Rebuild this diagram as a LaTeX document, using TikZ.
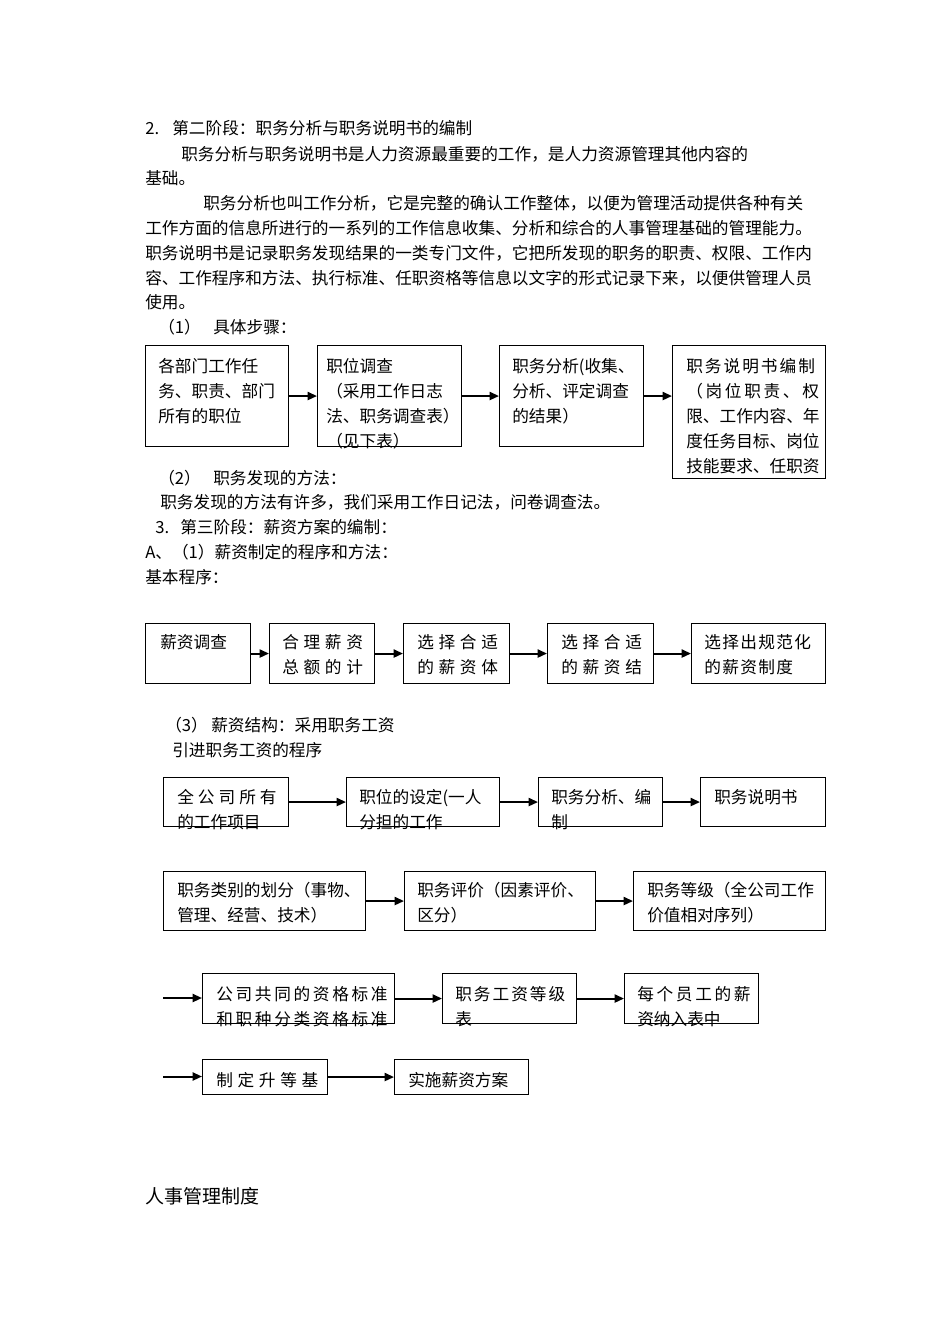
\documentclass[tikz,border=0pt]{standalone}
\usepackage{fontspec}
\setmainfont{Noto Sans CJK SC}
\usetikzlibrary{arrows.meta}

\newcommand\bodyfont{\fontsize{12.5}{18.75}\selectfont}
\makeatletter
\newcommand\spread[2]{\def\spread@gap{\hspace{#1}}\spread@first#2\relax}
\def\spread@first#1{#1\spread@next}
\def\spread@next#1{\ifx\relax#1\else\spread@gap#1\expandafter\spread@next\fi}
\makeatother

\tikzset{
  box/.style={draw, line width=0.8pt, anchor=north west, inner sep=0pt},
  sz/.style 2 args={minimum width=#1*0.75pt, minimum height=#2*0.75pt},
  txt/.style={inner sep=0pt, anchor=west, font=\bodyfont},
  btxt/.style={inner sep=0pt, anchor=north west, align=left, font=\bodyfont},
  arr/.style={line width=1.5pt, -{Triangle[length=7pt,width=6pt]}},
}

\begin{document}
\begin{tikzpicture}[x=0.75pt, y=-0.75pt]
  \fill[white] (0,0) rectangle (950,1344);
  \useasboundingbox (0,0) rectangle (950,1344);

  % stage two
  \node[txt] (l1) at (145,128) {\makebox[20.25pt][l]{2.}第二阶段：职务分析与职务说明书的编制};
  \node[txt] (l2) at (181,154) {职务分析与职务说明书是人力资源最重要的工作，是人力资源管理其他内容的};
  \node[txt] (l3) at (145,178) {基础。};
  \node[txt] (l4) at (203,203) {职务分析也叫工作分析，它是完整的确认工作整体，以便为管理活动提供各种有关};
  \node[txt] (l5) at (145,228) {工作方面的信息所进行的一系列的工作信息收集、分析和综合的人事管理基础的管理能力。};
  \node[txt] (l6) at (145,253) {职务说明书是记录职务发现结果的一类专门文件，它把所发现的职务的职责、权限、工作内};
  \node[txt] (l7) at (145,278) {容、工作程序和方法、执行标准、任职资格等信息以文字的形式记录下来，以便供管理人员};
  \node[txt] (l8) at (145,302) {使用。};
  \node[txt] (l9) at (158,327) {\makebox[41.25pt][l]{（1）}具体步骤：};

  \node[box, sz={143}{101}] (b1) at (145,345) {};
  \node[box, sz={144}{101}] (b2) at (317,345) {};
  \node[box, sz={144}{101}] (b3) at (499,345) {};
  \node[box, sz={153}{133}] (b4) at (672,345) {};
  \node[btxt] (b1t) at (158,358) {各部门工作任\\务、职责、部门\\所有的职位};
  \node[btxt] (b2t) at (326,358) {职位调查\\（采用工作日志\\法、职务调查表）\\（见下表）};
  \node[btxt] (b3t) at (512,358) {职务分析(收集、\\分析、评定调查\\的结果）};
  \node[btxt] (b4t) at (686,358) {\spread{1.5pt}{职务说明书编制}\\\spread{2pt}{（岗位职责、权}\\限、工作内容、年\\度任务目标、岗位\\技能要求、任职资};

  \node[txt] (m1) at (158,478) {\makebox[41.25pt][l]{（2）}职务发现的方法：};
  \node[txt] (m2) at (160,502) {职务发现的方法有许多，我们采用工作日记法，问卷调查法。};
  % stage three
  \node[txt] (m3) at (155,527) {\makebox[18.75pt][l]{3.}第三阶段：薪资方案的编制：};
  \node[txt] (m4) at (145,552) {A、（1）薪资制定的程序和方法：};
  \node[txt] (m5) at (145,577) {基本程序：};

  \node[box, sz={105}{60}] (c1) at (145,623) {};
  \node[box, sz={105}{60}] (c2) at (269,623) {};
  \node[box, sz={106}{60}] (c3) at (403,623) {};
  \node[box, sz={106}{60}] (c4) at (547,623) {};
  \node[box, sz={134}{60}] (c5) at (691,623) {};
  \node[btxt] (c1t) at (160,634) {薪资调查};
  \node[btxt] (c2t) at (282,634) {\spread{3.5pt}{合理薪资}\\\spread{3.5pt}{总额的计}};
  \node[btxt] (c3t) at (417,634) {\spread{3.5pt}{选择合适}\\\spread{3.5pt}{的薪资体}};
  \node[btxt] (c4t) at (561,634) {\spread{3.5pt}{选择合适}\\\spread{3.5pt}{的薪资结}};
  \node[btxt] (c5t) at (704,634) {\spread{1pt}{选择出规范化}\\\spread{1pt}{的薪资制度}};

  \node[txt] (n1) at (165,725) {\makebox[34.5pt][l]{（3）}薪资结构：采用职务工资};
  \node[txt] (n2) at (172,750) {引进职务工资的程序};

  \node[box, sz={125}{49}] (d1) at (163,777) {};
  \node[box, sz={153}{49}] (d2) at (346,777) {};
  \node[box, sz={124}{49}] (d3) at (538,777) {};
  \node[box, sz={125}{49}] (d4) at (700,777) {};
  \node[btxt] (d1t) at (177,789) {\spread{3pt}{全公司所有}\\的工作项目};
  \node[btxt] (d2t) at (359,789) {职位的设定(一人\\分担的工作};
  \node[btxt] (d3t) at (551,789) {职务分析、编\\制};
  \node[btxt] (d4t) at (714,789) {职务说明书};

  \node[box, sz={202}{59}] (e1) at (163,871) {};
  \node[box, sz={191}{59}] (e2) at (404,871) {};
  \node[box, sz={192}{59}] (e3) at (633,871) {};
  \node[btxt] (e1t) at (177,882) {职务类别的划分（事物、\\管理、经营、技术）};
  \node[btxt] (e2t) at (417,882) {职务评价（因素评价、\\区分）};
  \node[btxt] (e3t) at (647,882) {职务等级（全公司工作\\价值相对序列）};

  \coordinate (fin) at (163,998);
  \node[box, sz={192}{50}] (f1) at (202,973) {};
  \node[box, sz={134}{50}] (f2) at (442,973) {};
  \node[box, sz={134}{50}] (f3) at (624,973) {};
  \node[btxt] (f1t) at (216,986) {\spread{2pt}{公司共同的资格标准}\\\spread{2pt}{和职种分类资格标准}};
  \node[btxt] (f2t) at (455,986) {\spread{1.5pt}{职务工资等级}\\表};
  \node[btxt] (f3t) at (637,986) {\spread{2pt}{每个员工的薪}\\资纳入表中};

  \coordinate (gin) at (163,1076.5);
  \node[box, sz={125}{35}] (g1) at (202,1059) {};
  \node[box, sz={134}{35}] (g2) at (394,1059) {};
  \node[btxt] (g1t) at (216,1072) {\spread{3.5pt}{制定升等基}};
  \node[btxt] (g2t) at (408,1072) {实施薪资方案};

  \foreach \a/\b in {b1/b2, b2/b3, b3/b4, c1/c2, c2/c3, c3/c4, c4/c5,
                     d1/d2, d2/d3, d3/d4, e1/e2, e2/e3, f1/f2, f2/f3, g1/g2}
    \draw[arr] (\a.east) -- (\a.east -| \b.west);
  \draw[arr] (fin) -- (fin -| f1.west);
  \draw[arr] (gin) -- (gin -| g1.west);

  \node[inner sep=0pt, anchor=west, font=\fontsize{14.25}{18}\selectfont] (last) at (145,1196) {人事管理制度};
\end{tikzpicture}
\end{document}
